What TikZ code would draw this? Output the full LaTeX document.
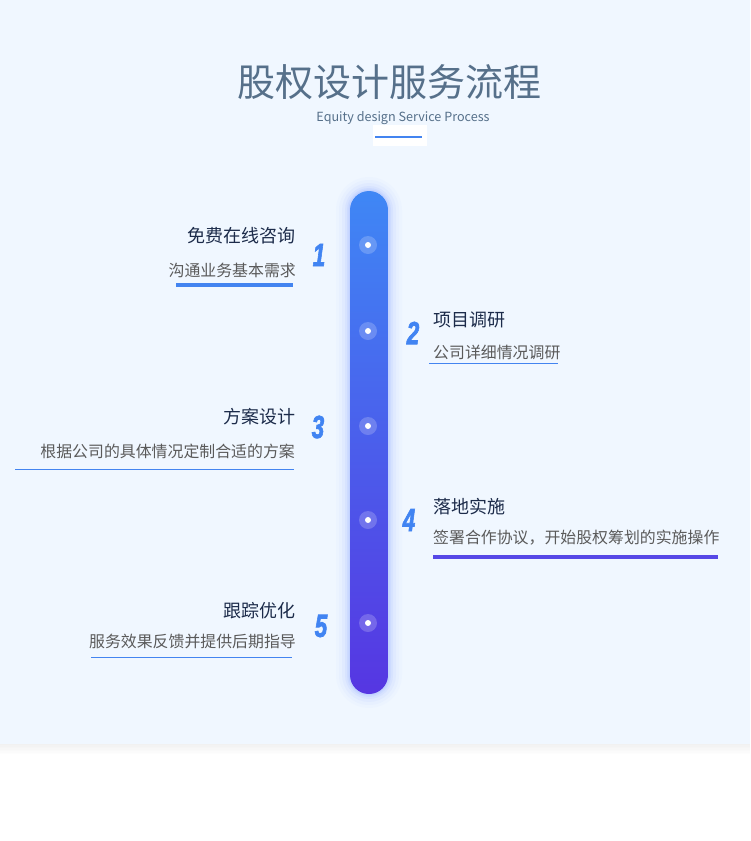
\documentclass[tikz,border=0pt]{standalone}
\usepackage{fontspec}
\setmainfont{Noto Sans CJK SC}
\newfontfamily\numfont[FakeBold=2.5]{Liberation Sans}
\usetikzlibrary{calc}
\definecolor{bgblue}{HTML}{F0F7FF}
\definecolor{titlecol}{HTML}{56708A}
\definecolor{headcol}{HTML}{1C2B4A}
\definecolor{subcol}{HTML}{5A5A5A}
\definecolor{lineblue}{HTML}{4384F0}
\definecolor{linepurple}{HTML}{5648E6}
\definecolor{numblue}{HTML}{4184F2}
\definecolor{bartop}{HTML}{3F87F5}
\definecolor{barbot}{HTML}{5636E2}
\definecolor{glow}{HTML}{8FA8FF}
\tikzset{
  head/.style={inner sep=0pt, text=headcol, font=\fontsize{18}{18}\selectfont},
  sub/.style={inner sep=0pt, text=subcol, font=\fontsize{15.9}{16}\selectfont},
  num/.style={inner sep=0pt, text=numblue, font=\fontsize{32}{32}\numfont\bfseries\itshape},
  thinline/.style={draw=lineblue, line width=1pt},
  thickline/.style={line width=4pt},
  dotring/.style={fill=white, fill opacity=0.2},
  dotcore/.style={fill=white}
}
\newcommand{\nm}[1]{\scalebox{0.7}[1]{#1}}
\begin{document}
\begin{tikzpicture}[x=1pt,y=-1pt]
\useasboundingbox (0,0) rectangle (750,841);
% background
\fill[white] (0,0) rectangle (750,841);
\fill[bgblue] (0,0) rectangle (750,744);
\foreach \i in {0,...,6} {
  \fill[black, opacity=0.009] (0,744) rectangle (750,744+\i*1.5+1);
}
% title
\node[inner sep=0pt, text=titlecol, font=\fontsize{38}{38}\selectfont] (title) at (389,82) {股权设计服务流程};
\node[inner sep=0pt, text=titlecol, font=\fontsize{12.6}{13}\selectfont] (subtitle) at (403,118.5) {Equity design Service Process};
\node[fill=white, minimum width=54pt, minimum height=21pt, inner sep=0pt] (tbox) at (400,135.5) {};
\coordinate (tl1) at (375,137);
\coordinate (tl2) at (422,137);
\draw[lineblue, line width=2pt] (tl1) -- (tl2);
% glow
\foreach \g/\o in {14/0.03,11/0.05,8/0.07,5/0.10,3/0.13,1.5/0.17} {
  \fill[glow, opacity=\o, rounded corners=19pt+\g pt] (350-\g,191-\g) rectangle (388+\g,694+\g);
}
% bar
\shade[top color=bartop, bottom color=barbot, rounded corners=19pt] (350,191) rectangle (388,694);
\node[inner sep=0pt, minimum width=38pt, minimum height=503pt] (bar) at (369,442.5) {};
% dots
\foreach \y [count=\k] in {245,331,426,520,623} {
  \fill[dotring] (368,\y) circle (9pt);
  \fill[dotcore] (368,\y) circle (3pt);
  \coordinate (dot\k) at (368,\y);
}
% numbers
\node[num] (n1) at (319,255) {\nm{1}};
\node[num] (n2) at (413,333) {\nm{2}};
\node[num] (n3) at (318,427) {\nm{3}};
\node[num] (n4) at (409,520) {\nm{4}};
\node[num] (n5) at (321,626) {\nm{5}};
% step 1
\node[head, anchor=east] (h1) at (296,236) {免费在线咨询};
\node[sub, anchor=east] (s1) at (296,270) {沟通业务基本需求};
\coordinate (l1a) at (176,285); \coordinate (l1b) at (293,285);
\draw[thickline, lineblue] (l1a) -- (l1b);
% step 2
\node[head, anchor=west] (h2) at (433,320) {项目调研};
\node[sub, anchor=west] (s2) at (433,352) {公司详细情况调研};
\coordinate (l2a) at (429,363.5); \coordinate (l2b) at (558,363.5);
\draw[thinline] (l2a) -- (l2b);
% step 3
\node[head, anchor=east] (h3) at (296,417) {方案设计};
\node[sub, anchor=east] (s3) at (295,451) {根据公司的具体情况定制合适的方案};
\coordinate (l3a) at (15,469.5); \coordinate (l3b) at (294,469.5);
\draw[thinline] (l3a) -- (l3b);
% step 4
\node[head, anchor=west] (h4) at (433,507) {落地实施};
\node[sub, anchor=west] (s4) at (433,538) {签署合作协议，开始股权筹划的实施操作};
\coordinate (l4a) at (433,557); \coordinate (l4b) at (718,557);
\draw[thickline, linepurple] (l4a) -- (l4b);
% step 5
\node[head, anchor=east] (h5) at (296,611) {跟踪优化};
\node[sub, anchor=east] (s5) at (296,641) {服务效果反馈并提供后期指导};
\coordinate (l5a) at (91,657.5); \coordinate (l5b) at (292,657.5);
\draw[thinline] (l5a) -- (l5b);
\end{tikzpicture}
\end{document}
